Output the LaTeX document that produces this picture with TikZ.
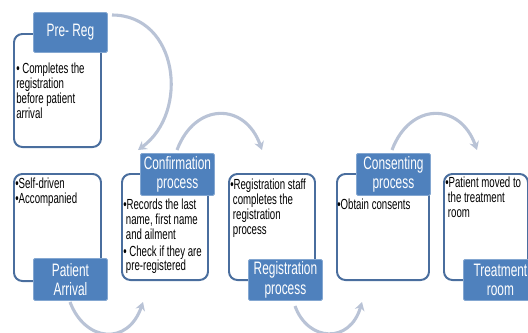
\documentclass[tikz,border=0pt]{standalone}
\usepackage{fontspec}
\setmainfont{Liberation Sans}[FakeStretch=0.66]
\usetikzlibrary{arrows.meta}
\definecolor{titleblue}{HTML}{4F81BD}
\definecolor{edgeblue}{HTML}{4A6E9E}
\definecolor{arcgray}{HTML}{B9C3D6}

\begin{document}
\begin{tikzpicture}[x=0.025cm,y=-0.025cm,
    panel/.style={draw=edgeblue,line width=1.4pt,rounded corners=6pt,fill=white,anchor=north west,inner sep=0pt},
    title/.style={fill=titleblue,draw=titleblue!70!white,line width=0.6pt,text=white,rounded corners=1pt,anchor=north west,
                  inner sep=0pt,align=center,minimum width=1.85cm,font=\fontsize{12.8}{14}\selectfont},
    note/.style={anchor=north west,align=left,inner sep=0pt,font=\fontsize{10.4}{10.6}\selectfont},
    flow/.style={draw=arcgray,line width=2.2pt,-{Stealth[length=6pt,width=7pt]}}]
    \useasboundingbox (0,0) rectangle (528,332);

    % Pre-Reg
    \node[panel,minimum width=2.175cm,minimum height=2.825cm] (prereg) at (13,33) {};
    \node[title,minimum height=1.0cm] (preregtitle) at (33,12) {Pre- Reg};
    \node[note] (preregnote) at (16,63) {\textbullet\ Completes the\\registration\\before patient\\arrival};

    % Patient Arrival
    \node[panel,minimum width=2.175cm,minimum height=2.675cm] (arrival) at (13,173) {};
    \node[title,minimum height=1.05cm] (arrivaltitle) at (33,258) {Patient\\Arrival};
    \node[note] (arrivalnote) at (15,178) {\textbullet Self-driven\\\textbullet Accompanied};

    % Confirmation
    \node[panel,minimum width=2.15cm,minimum height=2.65cm] (confirm) at (121,173) {};
    \node[title,minimum height=1.05cm] (confirmtitle) at (140,153) {Confirmation\\process};
    \node[note] (confirmnote) at (123,199) {\textbullet Records the last\\\ name, first name\\\ and ailment\\[1pt]\textbullet\ Check if they are\\\ pre-registered};

    % Registration
    \node[panel,minimum width=2.15cm,minimum height=2.65cm] (regist) at (228,173) {};
    \node[title,minimum height=1.025cm] (registtitle) at (248,259) {Registration\\process};
    \node[note] (registnote) at (230,179) {\textbullet Registration staff\\\ completes the\\\ registration\\\ process};

    % Consenting
    \node[panel,minimum width=2.3cm,minimum height=2.65cm] (consent) at (336,173) {};
    \node[title,minimum height=1.05cm] (consenttitle) at (356,153) {Consenting\\process};
    \node[note] (consentnote) at (337,199) {\textbullet Obtain consents};

    % Treatment room
    \node[panel,minimum width=2.1cm,minimum height=2.65cm] (treat) at (443,173) {};
    \node[title,minimum height=1.025cm] (treattitle) at (463,259) {Treatment\\room};
    \node[note] (treatnote) at (445,177) {\textbullet Patient moved to\\\ the treatment\\\ room};

    % Pfeile
    \coordinate (a1) at (112,15);
    \coordinate (b1) at (138,150);
    \coordinate (a2) at (177,150);
    \coordinate (b2) at (262,150);
    \coordinate (a3) at (392,150);
    \coordinate (b3) at (477,150);
    \coordinate (a4) at (70,302);
    \coordinate (b4) at (143,302);
    \coordinate (a5) at (295,306);
    \coordinate (b5) at (362,302);
    \draw[flow] (a1) .. controls (178,15) and (190,112) .. (b1);
    \draw[flow] (a2) .. controls (195,102) and (245,102) .. (b2);
    \draw[flow] (a3) .. controls (410,102) and (460,102) .. (b3);
    \draw[flow] (a4) .. controls (85,342) and (128,346) .. (b4);
    \draw[flow] (a5) .. controls (308,342) and (350,344) .. (b5);
\end{tikzpicture}
\end{document}
